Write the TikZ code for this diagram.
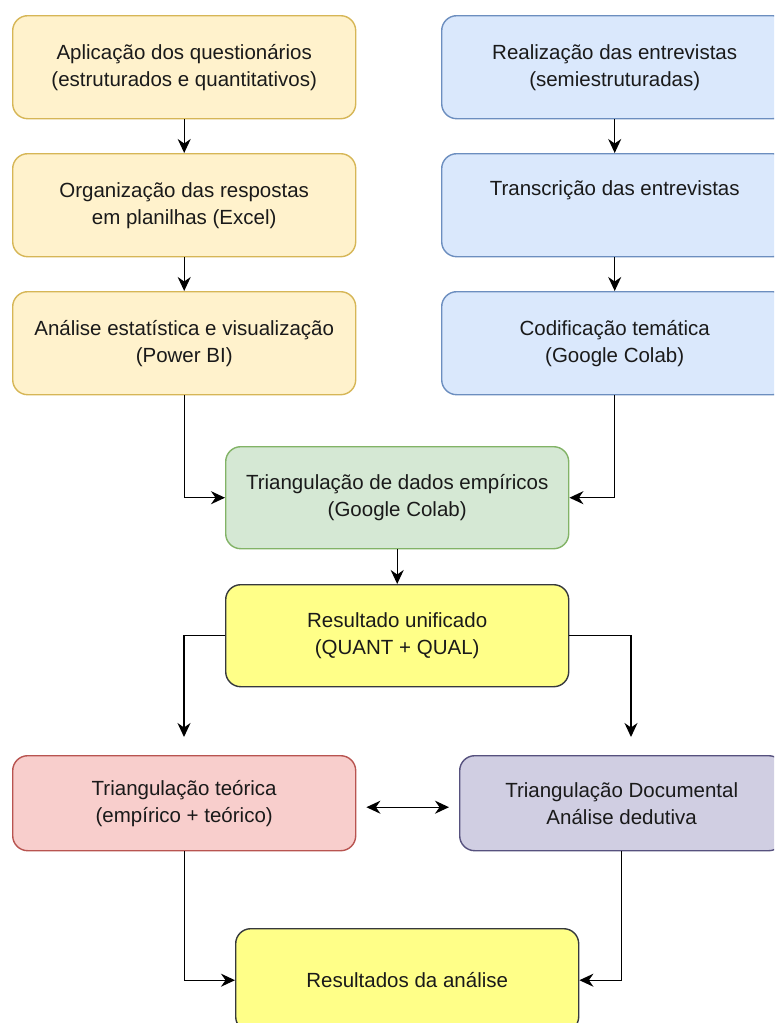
\documentclass[tikz,border=0pt]{standalone}
\usepackage{fontspec}
\setmainfont{Liberation Sans}
\usetikzlibrary{arrows.meta}

\definecolor{orfill}{HTML}{FFF2CC}\definecolor{ordraw}{HTML}{D6B656}
\definecolor{blfill}{HTML}{DAE8FC}\definecolor{bldraw}{HTML}{6C8EBF}
\definecolor{grfill}{HTML}{D5E8D4}\definecolor{grdraw}{HTML}{82B366}
\definecolor{yefill}{HTML}{FFFF88}\definecolor{yedraw}{HTML}{36393D}
\definecolor{rdfill}{HTML}{F8CECC}\definecolor{rddraw}{HTML}{B85450}
\definecolor{pufill}{HTML}{D0CEE2}\definecolor{pudraw}{HTML}{56517E}
\definecolor{txt}{HTML}{1A1A1A}

\begin{document}
\begin{tikzpicture}[x=1pt,y=-1pt,
  box/.style={draw, rounded corners=15pt, line width=1.4pt, align=center,
    inner sep=0pt, anchor=north west, text=txt,
    font=\fontsize{20.5}{27}\selectfont},
  qual/.style={box, fill=orfill, draw=ordraw},
  qualit/.style={box, fill=blfill, draw=bldraw},
  merge/.style={box, fill=grfill, draw=grdraw},
  result/.style={box, fill=yefill, draw=yedraw},
  theory/.style={box, fill=rdfill, draw=rddraw},
  docum/.style={box, fill=pufill, draw=pudraw},
  tip/.style={Stealth[length=14pt,width=13pt,inset=4.5pt]},
  arr/.style={line width=1.4pt, -{Stealth[length=14pt,width=13pt,inset=4.5pt]}},
  darr/.style={line width=1.4pt, {Stealth[length=14pt,width=13pt,inset=4.5pt]}-{Stealth[length=14pt,width=13pt,inset=4.5pt]}}]
\useasboundingbox (0,0) rectangle (774,1023);
\clip (0,0) rectangle (774,1023);

% quantitative column
\node[qual, minimum width=343pt, minimum height=103pt] (a) at (12,15)
  {Aplicação dos questionários\\(estruturados e quantitativos)};
\node[qual, minimum width=343pt, minimum height=103pt] (c) at (12,153)
  {Organização das respostas\\em planilhas (Excel)};
\node[qual, minimum width=343pt, minimum height=103pt] (e) at (12,291)
  {Análise estatística e visualização\\(Power BI)};

% qualitative column
\node[qualit, minimum width=346pt, minimum height=103pt] (b) at (441,15)
  {Realização das entrevistas\\(semiestruturadas)};
\node[qualit, minimum width=346pt, minimum height=103pt] (d) at (441,153)
  {Transcrição das entrevistas\\\strut};
\node[qualit, minimum width=346pt, minimum height=103pt] (f) at (441,291)
  {Codificação temática\\(Google Colab)};

% integration
\node[merge, minimum width=343pt, minimum height=102pt] (g) at (225,446)
  {Triangulação de dados empíricos\\(Google Colab)};
\node[result, minimum width=343pt, minimum height=102pt] (h) at (225,584)
  {Resultado unificado\\(QUANT + QUAL)};

% triangulations
\node[theory, minimum width=343pt, minimum height=95pt] (i) at (12,755)
  {Triangulação teórica\\(empírico + teórico)};
\node[docum, minimum width=324pt, minimum height=95pt] (j) at (459,755)
  {Triangulação Documental\\Análise dedutiva};

% final result
\node[result, minimum width=343pt, minimum height=103pt] (k) at (235,928)
  {Resultados da análise};

\coordinate (hl) at (184,737);
\coordinate (hr) at (631,737);

% connectors
\draw[arr] (a) -- (c);
\draw[arr] (c) -- (e);
\draw[arr] (b) -- (d);
\draw[arr] (d) -- (f);
\draw[arr] (e.south) |- (g.west);
\draw[arr] (f.south) |- (g.east);
\draw[arr] (g.south) -- (h.north);
\draw[arr] (h.west) -| (hl);
\draw[arr] (h.east) -| (hr);
\draw[darr, shorten <=10pt, shorten >=10pt] ([yshift=-4pt]i.east) -- ([yshift=-4pt]j.west);
\draw[arr] (i.south) |- (k.west);
\draw[arr] (j.south) |- (k.east);
\end{tikzpicture}
\end{document}
